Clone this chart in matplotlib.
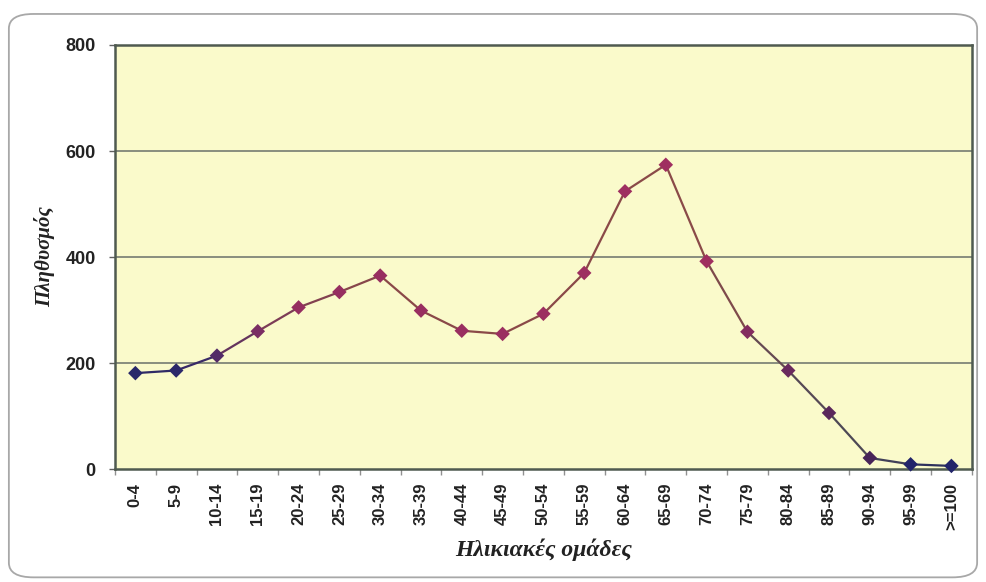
import matplotlib
matplotlib.use("Agg")
import matplotlib.pyplot as plt
import numpy as np
from matplotlib import font_manager as fm
from matplotlib.collections import LineCollection
from matplotlib.colors import LinearSegmentedColormap
from matplotlib.patches import FancyBboxPatch

# Age groups and population counts
age_groups = ["0-4", "5-9", "10-14", "15-19", "20-24", "25-29", "30-34",
              "35-39", "40-44", "45-49", "50-54", "55-59", "60-64", "65-69",
              "70-74", "75-79", "80-84", "85-89", "90-94", "95-99", ">=100"]
population = [181, 186, 214, 260, 305, 334, 365, 299, 261, 255, 293, 370,
              524, 574, 392, 259, 186, 106, 21, 9, 6]
y_ticks = [0, 200, 400, 600, 800]


def find_font(name, bold):
    for f in fm.fontManager.ttflist:
        fname = f.fname.lower()
        if f.name == name and "narrow" not in fname:
            is_bold = f.weight in ("bold", 700) or (isinstance(f.weight, int) and f.weight >= 700)
            if is_bold == bold and f.style == "normal":
                return fm.FontProperties(fname=f.fname)
    return fm.FontProperties(family="DejaVu Sans", weight="bold" if bold else "normal")


tick_font = find_font("Liberation Sans", True)

fig = plt.figure(figsize=(9.86, 5.82), dpi=100)
fig.patch.set_facecolor("white")

# rounded outer frame
frame = FancyBboxPatch((0.009, 0.008), 0.982, 0.968,
                       boxstyle="round,pad=0,rounding_size=0.025",
                       transform=fig.transFigure, facecolor="none",
                       edgecolor="#a8a8a8", linewidth=1.3, zorder=0)
fig.patches.append(frame)

ax = fig.add_axes([0.1166, 0.194, 0.869, 0.7287])
ax.set_facecolor("#fafacb")

x = np.arange(len(age_groups))
y = np.array(population, dtype=float)

# colour drifts from navy at the ends to magenta in the middle
cmap_line = LinearSegmentedColormap.from_list(
    "ln", [(0.0, "#2a2a66"), (0.08, "#3a2a66"), (0.15, "#7a3a58"),
           (0.3, "#8a4848"), (0.7, "#8a4a48"), (0.8, "#5a4a55"),
           (0.9, "#4a4855"), (1.0, "#262a60")])
cmap_mark = LinearSegmentedColormap.from_list(
    "mk", [(0.0, "#28286a"), (0.06, "#2c286a"), (0.12, "#6a2c66"),
           (0.2, "#952e60"), (0.7, "#a02f60"), (0.8, "#6a2a5e"),
           (0.9, "#4a2458"), (0.95, "#22246a"), (1.0, "#22246a")])

pts = np.column_stack([x, y]).reshape(-1, 1, 2)
segs = np.concatenate([pts[:-1], pts[1:]], axis=1)
mid = (x[:-1] + x[1:]) / 2 / (len(x) - 1)
lc = LineCollection(segs, colors=cmap_line(mid), linewidths=1.6, zorder=3)
ax.add_collection(lc)
ax.scatter(x, y, marker="D", s=55, c=cmap_mark(x / (len(x) - 1)),
           edgecolors="none", zorder=4, clip_on=False)

ax.set_xlim(-0.5, len(x) - 0.5)
ax.set_ylim(0, 800)
ax.set_yticks(y_ticks)
ax.set_yticklabels([str(v) for v in y_ticks], color="#222222")
for lbl in ax.get_yticklabels():
    lbl.set_fontproperties(tick_font)
    lbl.set_fontsize(13)
ax.set_xticks(x)
ax.set_xticklabels(age_groups, rotation=90, color="#222222")
for lbl in ax.get_xticklabels():
    lbl.set_fontproperties(tick_font)
    lbl.set_fontsize(12)
ax.set_xticks(np.arange(-0.5, len(x), 1.0), minor=True)
ax.tick_params(axis="x", which="major", length=0, pad=10)
ax.tick_params(axis="x", which="minor", length=4, width=1, color="#909090")
ax.tick_params(axis="y", length=4, width=1, color="#606060", pad=10)

for v in y_ticks[1:-1]:
    ax.axhline(v, color="#6a706a", linewidth=1.1, zorder=1)

for s in ax.spines.values():
    s.set_color("#4f5a50")
    s.set_linewidth(1.8)

ax.set_ylabel("Πληθυσμός", family="Liberation Serif", fontstyle="italic",
              fontweight="bold", fontsize=15, color="#222222", labelpad=7)
ax.set_xlabel("Ηλικιακές ομάδες", family="Liberation Serif",
              fontstyle="italic", fontweight="bold", fontsize=17,
              color="#222222", labelpad=6)

fig.savefig("out.png", dpi=100)
